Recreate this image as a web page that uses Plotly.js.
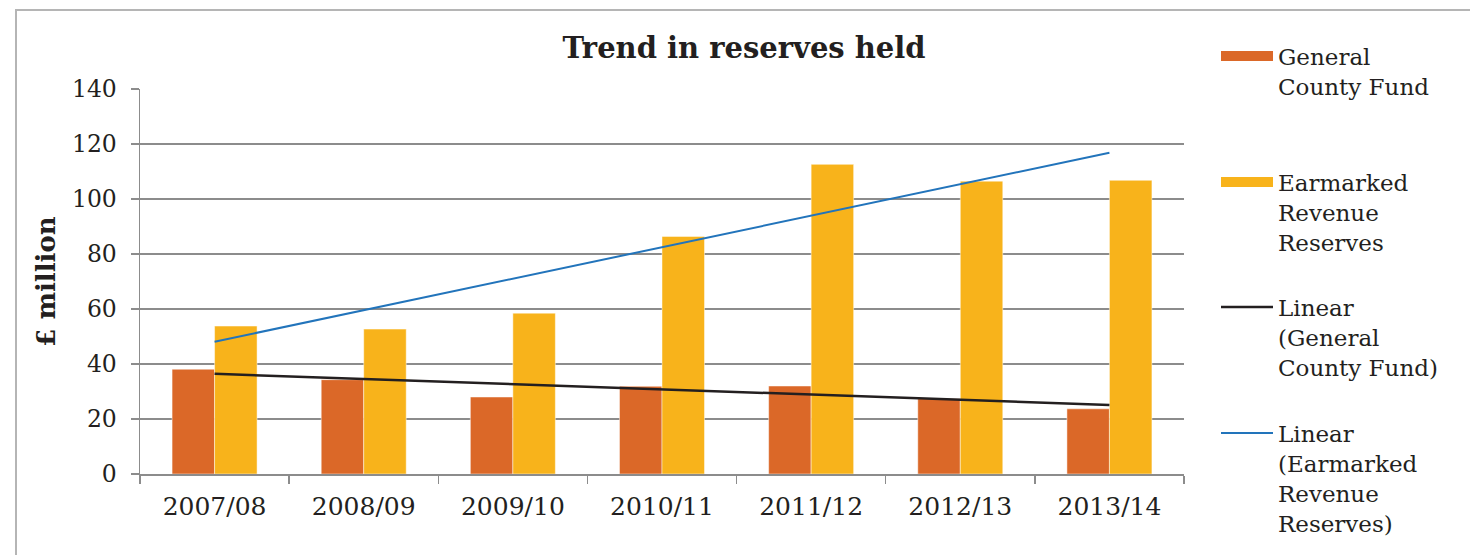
<!DOCTYPE html>
<html>
<head>
<meta charset="utf-8">
<script src="https://cdn.plot.ly/plotly-3.0.1.min.js"></script>
<style>
  html, body { margin: 0; padding: 0; background: #ffffff; }
  #chart { width: 1470px; height: 555px; }
</style>
</head>
<body>
<div id="chart"></div>
<script>
const years = ['2007/08', '2008/09', '2009/10', '2010/11', '2011/12', '2012/13', '2013/14'];
const generalCountyFund = [38.1, 34.3, 28.0, 31.9, 32.0, 27.4, 23.7];
const earmarkedRevenueReserves = [53.8, 52.7, 58.5, 86.4, 112.6, 106.5, 106.8];
const yTicks = [0, 20, 40, 60, 80, 100, 120, 140];

// Least-squares linear trend over category index (as the spreadsheet "Linear" trendline)
function linearTrend(values) {
  const n = values.length;
  let sx = 0, sy = 0, sxx = 0, sxy = 0;
  values.forEach((v, i) => { sx += i; sy += v; sxx += i * i; sxy += i * v; });
  const slope = (n * sxy - sx * sy) / (n * sxx - sx * sx);
  const icpt = (sy - slope * sx) / n;
  return values.map((_, i) => icpt + slope * i);
}

const ORANGE = '#DB6828';
const YELLOW = '#F8B31B';
const BLACK = '#231F20';
const BLUE = '#2274BB';
const TXT = '#231F20';
const GRID = '#8C8C8C';
const FONT = 'DejaVu Serif, Georgia, serif';

const traces = [
  { type: 'bar', name: 'General<br>County Fund', x: years, y: generalCountyFund,
    marker: { color: ORANGE, line: { color: 'rgba(255,255,255,0.6)', width: 0.8 } },
    showlegend: false, hoverinfo: 'x+y' },
  { type: 'bar', name: 'Earmarked<br>Revenue<br>Reserves', x: years, y: earmarkedRevenueReserves,
    marker: { color: YELLOW, line: { color: 'rgba(255,255,255,0.6)', width: 0.8 } },
    showlegend: false, hoverinfo: 'x+y' },
  { type: 'scatter', mode: 'lines', name: 'Linear<br>(General<br>County Fund)',
    x: years, y: linearTrend(generalCountyFund),
    line: { color: BLACK, width: 2.5 }, legend: 'legend3' },
  { type: 'scatter', mode: 'lines', name: 'Linear<br>(Earmarked<br>Revenue<br>Reserves)',
    x: years, y: linearTrend(earmarkedRevenueReserves),
    line: { color: BLUE, width: 2 }, legend: 'legend4' },
  // legend keys for the bar series (wide rectangles as in the original)
  { type: 'scatter', mode: 'lines', name: 'General<br>County Fund', x: [null], y: [null],
    line: { color: ORANGE, width: 13 }, legend: 'legend', hoverinfo: 'skip' },
  { type: 'scatter', mode: 'lines', name: 'Earmarked<br>Revenue<br>Reserves', x: [null], y: [null],
    line: { color: YELLOW, width: 13 }, legend: 'legend2', hoverinfo: 'skip' }
];

const W = 1470, H = 555;
const L = 140, R = 1184, T = 89, B = 474;
const px = v => (v - L) / (R - L);
const py = v => (B - v) / (B - T);

function leg(xPix, yPix) {
  return { x: xPix / W, y: 1 - yPix / H, xref: 'container', yref: 'container',
    xanchor: 'left', yanchor: 'top',
    font: { family: FONT, size: 23, color: TXT }, bgcolor: 'rgba(0,0,0,0)',
    itemwidth: 52, valign: 'top', tracegroupgap: 0, itemclick: false, itemdoubleclick: false };
}

const layout = {
  width: W, height: H,
  margin: { l: L, r: W - R, t: T, b: H - B, autoexpand: false },
  paper_bgcolor: '#ffffff', plot_bgcolor: '#ffffff',
  font: { family: FONT, size: 23, color: TXT },
  title: { text: '<b>Trend in reserves held</b>', x: 744 / W, xanchor: 'center',
    y: 1 - 48 / H, yanchor: 'middle', yref: 'container',
    font: { family: FONT, size: 29, color: TXT } },
  barmode: 'group', bargap: 0.43, bargroupgap: 0,
  xaxis: {
    type: 'category', categoryorder: 'array', categoryarray: years,
    showgrid: false, showline: true, linecolor: GRID, linewidth: 1.5,
    ticks: 'outside', tickson: 'boundaries', ticklen: 8, tickcolor: GRID, tickwidth: 1.5,
    tickfont: { family: FONT, size: 25, color: TXT }, ticklabelstandoff: 9,
    range: [-0.5, 6.5], fixedrange: true
  },
  yaxis: {
    range: [0, 140], tickvals: yTicks, ticktext: yTicks.map(String),
    showgrid: true, gridcolor: GRID, gridwidth: 1.5,
    showline: true, linecolor: GRID, linewidth: 1.5,
    ticks: 'outside', ticklen: 8, tickcolor: GRID, tickwidth: 1.5,
    tickfont: { family: FONT, size: 23.5, color: TXT }, ticklabelstandoff: 9,
    zeroline: false, fixedrange: true,
    title: { text: '<b>£ million</b>', font: { family: FONT, size: 26, color: TXT }, standoff: 9 }
  },
  legend: leg(1216, 34.5),
  legend2: leg(1216, 160.5),
  legend3: leg(1216, 285.5),
  legend4: leg(1216, 411.5),
  shapes: [
    { type: 'rect', xref: 'paper', yref: 'paper', layer: 'below',
      x0: px(16), x1: px(1490), y0: py(575), y1: py(10),
      line: { color: '#B5B5B5', width: 2 }, fillcolor: 'rgba(0,0,0,0)' }
  ]
};

Plotly.newPlot('chart', traces, layout, { staticPlot: true, displayModeBar: false });
</script>
</body>
</html>
